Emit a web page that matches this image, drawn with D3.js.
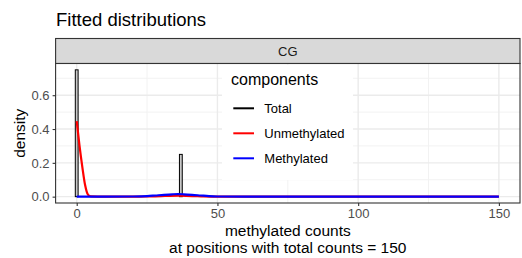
<!DOCTYPE html>
<html lang="en">
<head>
<meta charset="UTF-8">
<title>Fitted distributions</title>
<script src="https://d3js.org/d3.v7.min.js"></script>
<style>
  body { margin: 0; background: #fff; }
  text { font-family: "Liberation Sans", Arial, sans-serif; }
</style>
</head>
<body>
<div id="chart"></div>
<script>
// data
var xTicks = [0, 50, 100, 150];
var xMinor = [25, 75, 125];
var yTicks = [0, 0.2, 0.4, 0.6];
var yMinor = [0.1, 0.3, 0.5, 0.7];

// Total: observed counts drawn as outlined bars
var totalCounts = [0, 37];
var totalDensity = [0.75, 0.25];

// Unmethylated component
var unmX = [0, 1, 2, 3, 4, 5, 10, 20, 25, 30, 33, 36, 39, 42, 45, 50, 100, 150];
var unmY = [0.446, 0.30, 0.175, 0.067, 0.012, 0.002, 0, 0, 0.001, 0.003, 0.005, 0.006, 0.005, 0.003, 0.001, 0, 0, 0];

// Methylated component
var metX = [0, 10, 20, 25, 28, 31, 34, 36, 38, 41, 44, 47, 50, 60, 100, 150];
var metY = [0, 0, 0.001, 0.003, 0.007, 0.011, 0.014, 0.015, 0.014, 0.011, 0.007, 0.003, 0.001, 0, 0, 0];

var components = ["Total", "Unmethylated", "Methylated"];
var compColors = ["#000000", "#ff0000", "#0000ff"];

var W = 522, H = 258;
var panel = {left: 55.6, right: 520, top: 63.5, bottom: 203};
var stripTop = 38.5;

var svg = d3.select("#chart").append("svg")
  .attr("width", W).attr("height", H);

var x = d3.scaleLinear().domain([-7.5, 157.5]).range([panel.left, panel.right]);
var y = d3.scaleLinear().domain([-0.0375, 0.7875]).range([panel.bottom, panel.top]);

// title
svg.append("text")
  .attr("x", 56).attr("y", 26)
  .attr("font-size", 18.5).attr("fill", "#000")
  .text("Fitted distributions");

// strip
svg.append("rect")
  .attr("x", panel.left).attr("y", stripTop)
  .attr("width", panel.right - panel.left).attr("height", panel.top - stripTop)
  .attr("fill", "#d9d9d9").attr("stroke", "#333333").attr("stroke-width", 1.1);
svg.append("text")
  .attr("x", (panel.left + panel.right) / 2).attr("y", (stripTop + panel.top) / 2 + 4.5)
  .attr("text-anchor", "middle").attr("font-size", 13).attr("fill", "#1a1a1a")
  .text("CG");

// panel background + grid
var g = svg.append("g");
g.append("rect")
  .attr("x", panel.left).attr("y", panel.top)
  .attr("width", panel.right - panel.left).attr("height", panel.bottom - panel.top)
  .attr("fill", "#fff");

g.selectAll(".ymin").data(yMinor).join("line")
  .attr("x1", panel.left).attr("x2", panel.right)
  .attr("y1", d => y(d)).attr("y2", d => y(d))
  .attr("stroke", "#f2f2f2").attr("stroke-width", 1);
g.selectAll(".xmin").data(xMinor).join("line")
  .attr("y1", panel.top).attr("y2", panel.bottom)
  .attr("x1", d => x(d)).attr("x2", d => x(d))
  .attr("stroke", "#f2f2f2").attr("stroke-width", 1);
g.selectAll(".ymaj").data(yTicks).join("line")
  .attr("x1", panel.left).attr("x2", panel.right)
  .attr("y1", d => y(d)).attr("y2", d => y(d))
  .attr("stroke", "#ebebeb").attr("stroke-width", 1.4);
g.selectAll(".xmaj").data(xTicks).join("line")
  .attr("y1", panel.top).attr("y2", panel.bottom)
  .attr("x1", d => x(d)).attr("x2", d => x(d))
  .attr("stroke", "#ebebeb").attr("stroke-width", 1.4);

// Total bars
g.selectAll(".bar").data(totalCounts).join("rect")
  .attr("x", d => x(d - 0.5))
  .attr("width", d => x(d + 0.5) - x(d - 0.5))
  .attr("y", (d, i) => y(totalDensity[i]))
  .attr("height", (d, i) => y(0) - y(totalDensity[i]))
  .attr("fill", "#c8c8c8").attr("stroke", "#000").attr("stroke-width", 1);

// component lines
var line = d3.line().x(d => x(d[0])).y(d => y(d[1])).curve(d3.curveMonotoneX);
g.append("path")
  .attr("d", line(unmX.map((v, i) => [v, unmY[i]])))
  .attr("fill", "none").attr("stroke", compColors[1]).attr("stroke-width", 2.2);
g.append("path")
  .attr("d", line(metX.map((v, i) => [v, metY[i]])))
  .attr("fill", "none").attr("stroke", compColors[2]).attr("stroke-width", 2.2);

// legend inside panel
var leg = svg.append("g");
leg.append("rect")
  .attr("x", 222).attr("y", 65).attr("width", 131).attr("height", 115)
  .attr("fill", "#fff");
leg.append("text")
  .attr("x", 231).attr("y", 85).attr("font-size", 16).attr("fill", "#000")
  .text("components");
var legY = [108.3, 133.3, 158.3];
components.forEach(function(c, i) {
  leg.append("line")
    .attr("x1", 233.3).attr("x2", 254).attr("y1", legY[i]).attr("y2", legY[i])
    .attr("stroke", compColors[i]).attr("stroke-width", 2);
  leg.append("text")
    .attr("x", 264.3).attr("y", legY[i] + 4.5)
    .attr("font-size", 13).attr("fill", "#000")
    .text(c);
});

// panel border
svg.append("rect")
  .attr("x", panel.left).attr("y", panel.top)
  .attr("width", panel.right - panel.left).attr("height", panel.bottom - panel.top)
  .attr("fill", "none").attr("stroke", "#333333").attr("stroke-width", 1.1);

// axes
var xAxis = svg.append("g")
  .attr("transform", "translate(0," + panel.bottom + ")")
  .call(d3.axisBottom(x).tickValues(xTicks).tickSize(3).tickPadding(3));
var yAxis = svg.append("g")
  .attr("transform", "translate(" + panel.left + ",0)")
  .call(d3.axisLeft(y).tickValues(yTicks).tickFormat(d3.format(".1f")).tickSize(3).tickPadding(3));
[xAxis, yAxis].forEach(function(a) {
  a.select(".domain").remove();
  a.selectAll(".tick line").attr("stroke", "#333333").attr("stroke-width", 1.1);
  a.selectAll(".tick text").attr("fill", "#4d4d4d").attr("font-size", 13)
    .attr("font-family", "Liberation Sans, Arial, sans-serif");
});

// axis titles
svg.append("text")
  .attr("x", (panel.left + panel.right) / 2).attr("y", 236)
  .attr("text-anchor", "middle").attr("font-size", 15.5).attr("fill", "#000")
  .text("methylated counts");
svg.append("text")
  .attr("x", (panel.left + panel.right) / 2).attr("y", 253)
  .attr("text-anchor", "middle").attr("font-size", 15.5).attr("fill", "#000")
  .text("at positions with total counts = 150");
svg.append("text")
  .attr("transform", "translate(24.5," + ((panel.top + panel.bottom) / 2) + ") rotate(-90)")
  .attr("text-anchor", "middle").attr("font-size", 15.5).attr("fill", "#000")
  .text("density");
</script>
</body>
</html>
